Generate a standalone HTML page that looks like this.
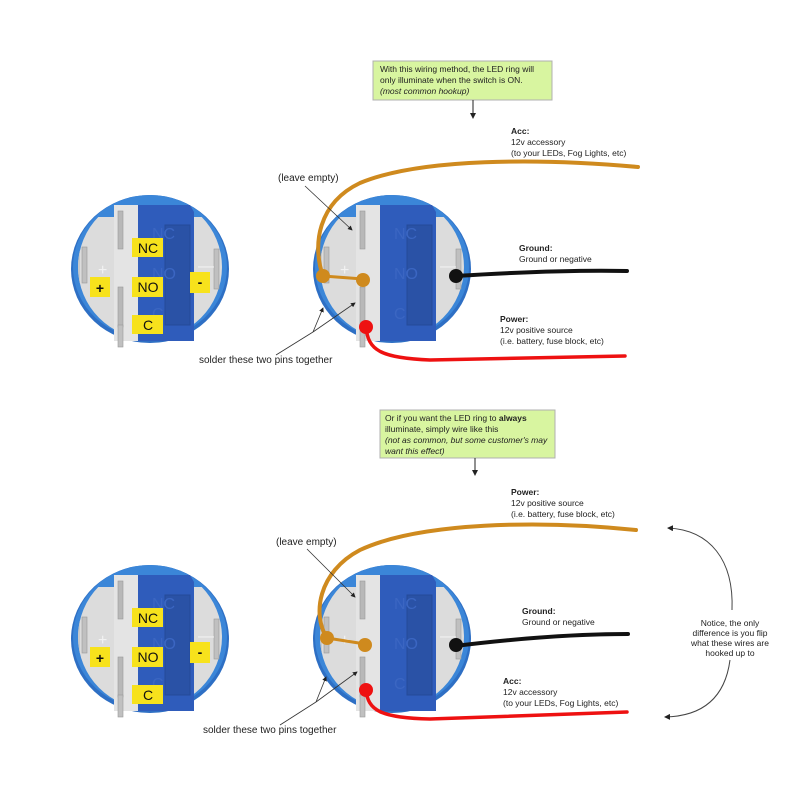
<!DOCTYPE html>
<html><head><meta charset="utf-8"><style>
html,body{margin:0;padding:0;background:#fff}
svg{display:block}
text{font-family:"Liberation Sans",Arial,sans-serif}
.s{font-size:8.5px;fill:#222}
.b{font-weight:bold}
.lab{font-size:10px;fill:#222}
.y{font-size:14px;fill:#111;text-anchor:middle}
</style></head><body>
<svg width="800" height="800" viewBox="0 0 800 800" xmlns="http://www.w3.org/2000/svg">
<defs>
<clipPath id="cc"><circle cx="0" cy="0" r="72"/></clipPath>
<marker id="ah" markerWidth="6" markerHeight="6" refX="5" refY="3" orient="auto"><path d="M0,0 L6,3 L0,6z" fill="#222"/></marker>
<g id="sw">
<ellipse cx="0" cy="2" rx="79" ry="74" fill="#2e6fc4"/>
<ellipse cx="0" cy="0" rx="77" ry="72" fill="#3b86d8"/>
<g clip-path="url(#cc)">
<rect x="-80" y="-50" width="160" height="118" rx="10" fill="#dcdcdc"/>
<rect x="-80" y="-50" width="10" height="118" fill="#c9c9c9"/>
</g>
<path d="M-12,-62 L40,-62 L44,-55 L44,74 L-12,74 z" fill="#2f5cbb"/>
<rect x="15" y="-42" width="25" height="100" fill="#2a52a6" stroke="#244a98" stroke-width="1"/>
<rect x="-36" y="-62" width="24" height="136" fill="#e4e4e4"/>
<rect x="-32" y="-56" width="5" height="38" fill="#b8b8b8" stroke="#999" stroke-width="0.6"/>
<rect x="-32" y="20" width="5" height="40" fill="#b8b8b8" stroke="#999" stroke-width="0.6"/>
<rect x="-32" y="58" width="5" height="22" fill="#c0c0c0" stroke="#999" stroke-width="0.6"/>
<rect x="-68" y="-20" width="5" height="36" fill="#c0c0c0" stroke="#999" stroke-width="0.6"/>
<rect x="64" y="-18" width="5" height="40" fill="#c0c0c0" stroke="#999" stroke-width="0.6"/>
<text x="2" y="-28" font-size="16" fill="#3b66c2" font-family="Liberation Sans">NC</text>
<text x="2" y="12" font-size="16" fill="#3b66c2" font-family="Liberation Sans">NO</text>
<text x="2" y="52" font-size="16" fill="#3b66c2" font-family="Liberation Sans">C</text>
<text x="-52" y="8" font-size="16" fill="#f2f2f2" font-family="Liberation Sans">+</text>
<text x="48" y="4" font-size="16" fill="#f2f2f2" font-family="Liberation Sans">—</text>
</g>
<g id="lbl">
<rect x="-18" y="-29" width="31" height="19" fill="#f7e21c"/><text class="y" x="-2" y="-14">NC</text>
<rect x="-18" y="10" width="31" height="20" fill="#f7e21c"/><text class="y" x="-2" y="25">NO</text>
<rect x="-18" y="48" width="31" height="19" fill="#f7e21c"/><text class="y" x="-2" y="63">C</text>
<rect x="-60" y="10" width="20" height="20" fill="#f7e21c"/><text class="y" x="-50" y="26" font-size="18" font-weight="bold">+</text>
<rect x="40" y="5" width="20" height="21" fill="#f7e21c"/><text class="y" x="50" y="20" font-weight="bold">-</text>
</g>
</defs>

<!-- TOP -->
<use href="#sw" x="150" y="267"/>
<use href="#lbl" x="150" y="267"/>
<use href="#sw" x="392" y="267"/>

<rect x="373" y="61" width="179" height="39" fill="#d8f5a0" stroke="#b0b0b0"/>
<text class="s" x="380" y="72">With this wiring method, the LED ring will</text>
<text class="s" x="380" y="83">only illuminate when the switch is ON.</text>
<text class="s" x="380" y="94" font-style="italic">(most common hookup)</text>
<line x1="473" y1="100" x2="473" y2="118" stroke="#222" marker-end="url(#ah)"/>

<text class="s b" x="511" y="134">Acc:</text>
<text class="s" x="511" y="145">12v accessory</text>
<text class="s" x="511" y="156">(to your LEDs, Fog Lights, etc)</text>
<path d="M638,167 C540,158 420,158 360,183 C318,203 312,245 323,276" stroke="#cf8a1e" stroke-width="4" fill="none" stroke-linecap="round"/>
<path d="M323,276 L363,279" stroke="#cf8a1e" stroke-width="3" fill="none"/>
<circle cx="323" cy="276" r="7" fill="#cf8a1e"/><circle cx="363" cy="280" r="7" fill="#cf8a1e"/>

<text class="s b" x="519" y="251">Ground:</text>
<text class="s" x="519" y="262">Ground or negative</text>
<path d="M455,276 C520,272 580,270 627,271" stroke="#111" stroke-width="4" fill="none" stroke-linecap="round"/>
<circle cx="456" cy="276" r="7" fill="#111"/>

<text class="s b" x="500" y="322">Power:</text>
<text class="s" x="500" y="333">12v positive source</text>
<text class="s" x="500" y="344">(i.e. battery, fuse block, etc)</text>
<path d="M366,327 C368,350 380,358 430,360 L625,356" stroke="#ee1111" stroke-width="3.5" fill="none" stroke-linecap="round"/>
<circle cx="366" cy="327" r="7" fill="#ee1111"/>

<text class="lab" x="278" y="181">(leave empty)</text>
<line x1="305" y1="186" x2="352" y2="230" stroke="#333" stroke-width="0.8" marker-end="url(#ah)"/>
<text class="lab" x="199" y="363">solder these two pins together</text>
<line x1="276" y1="355" x2="313" y2="332" stroke="#333" stroke-width="0.8"/>
<line x1="313" y1="332" x2="323" y2="308" stroke="#333" stroke-width="0.8" marker-end="url(#ah)"/>
<line x1="313" y1="332" x2="355" y2="303" stroke="#333" stroke-width="0.8" marker-end="url(#ah)"/>

<!-- BOTTOM -->
<use href="#sw" x="150" y="637"/>
<use href="#lbl" x="150" y="637"/>
<use href="#sw" x="392" y="637"/>

<rect x="380" y="410" width="175" height="48" fill="#d8f5a0" stroke="#b0b0b0"/>
<text class="s" x="385" y="421">Or if you want the LED ring to <tspan font-weight="bold">always</tspan></text>
<text class="s" x="385" y="432">illuminate, simply wire like this</text>
<text class="s" x="385" y="443" font-style="italic">(not as common, but some customer's may</text>
<text class="s" x="385" y="454" font-style="italic">want this effect)</text>
<line x1="475" y1="458" x2="475" y2="475" stroke="#222" marker-end="url(#ah)"/>

<text class="s b" x="511" y="495">Power:</text>
<text class="s" x="511" y="506">12v positive source</text>
<text class="s" x="511" y="517">(i.e. battery, fuse block, etc)</text>
<path d="M636,530 C540,520 420,522 360,550 C318,572 312,615 327,638" stroke="#cf8a1e" stroke-width="4" fill="none" stroke-linecap="round"/>
<path d="M327,638 L365,644" stroke="#cf8a1e" stroke-width="3" fill="none"/>
<circle cx="327" cy="638" r="7" fill="#cf8a1e"/><circle cx="365" cy="645" r="7" fill="#cf8a1e"/>

<text class="s b" x="522" y="614">Ground:</text>
<text class="s" x="522" y="625">Ground or negative</text>
<path d="M455,646 C520,638 580,634 628,634" stroke="#111" stroke-width="4" fill="none" stroke-linecap="round"/>
<circle cx="456" cy="645" r="7" fill="#111"/>

<text class="s b" x="503" y="684">Acc:</text>
<text class="s" x="503" y="695">12v accessory</text>
<text class="s" x="503" y="706">(to your LEDs, Fog Lights, etc)</text>
<path d="M366,690 C368,710 380,718 430,719 L627,712" stroke="#ee1111" stroke-width="3.5" fill="none" stroke-linecap="round"/>
<circle cx="366" cy="690" r="7" fill="#ee1111"/>

<text class="lab" x="276" y="545">(leave empty)</text>
<line x1="307" y1="549" x2="355" y2="597" stroke="#333" stroke-width="0.8" marker-end="url(#ah)"/>
<text class="lab" x="203" y="733">solder these two pins together</text>
<line x1="280" y1="725" x2="316" y2="702" stroke="#333" stroke-width="0.8"/>
<line x1="316" y1="702" x2="326" y2="677" stroke="#333" stroke-width="0.8" marker-end="url(#ah)"/>
<line x1="316" y1="702" x2="357" y2="672" stroke="#333" stroke-width="0.8" marker-end="url(#ah)"/>

<path d="M732,610 C734,560 710,530 668,528" stroke="#444" stroke-width="1" fill="none" marker-end="url(#ah)"/>
<path d="M730,660 C726,690 710,716 665,717" stroke="#444" stroke-width="1" fill="none" marker-end="url(#ah)"/>
<text class="s" x="730" y="626" text-anchor="middle">Notice, the only</text>
<text class="s" x="730" y="636" text-anchor="middle">difference is you flip</text>
<text class="s" x="730" y="646" text-anchor="middle">what these wires are</text>
<text class="s" x="730" y="656" text-anchor="middle">hooked up to</text>
</svg>
</body></html>
